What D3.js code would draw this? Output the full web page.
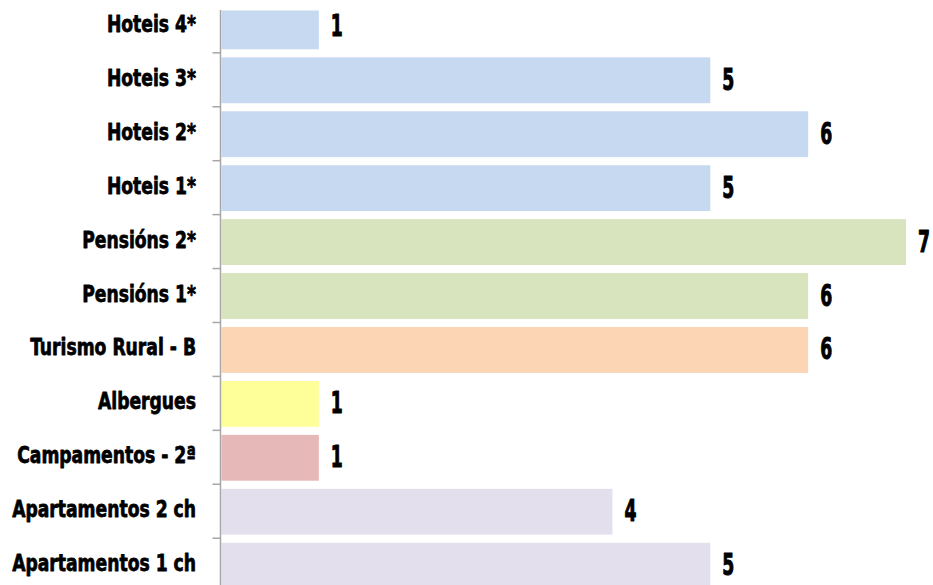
<!DOCTYPE html>
<html>
<head>
<meta charset="utf-8">
<script src="https://cdn.jsdelivr.net/npm/d3@7"></script>
<style>
  html, body { margin: 0; padding: 0; background: #ffffff; }
  svg { display: block; }
  .lbl { font-family: "Liberation Sans Narrow", "DejaVu Sans Condensed", "Liberation Sans", sans-serif; font-weight: bold; fill: #000; stroke: #000; stroke-linejoin: round; }
</style>
</head>
<body>
<svg id="chart" width="933" height="585"></svg>
<script>
// ---- data ----
const categories = ["Hoteis 4*", "Hoteis 3*", "Hoteis 2*", "Hoteis 1*", "Pensións 2*", "Pensións 1*",
  "Turismo Rural - B", "Albergues", "Campamentos - 2ª", "Apartamentos 2 ch", "Apartamentos 1 ch"];
const values = [1, 5, 6, 5, 7, 6, 6, 1, 1, 4, 5];
const groups = ["hoteis", "hoteis", "hoteis", "hoteis", "pensions", "pensions", "rural", "albergues", "campamentos", "apartamentos", "apartamentos"];
const groupNames = ["hoteis", "pensions", "rural", "albergues", "campamentos", "apartamentos"];
const groupColors = ["#c6d9f1", "#d7e4bd", "#fcd5b5", "#ffff99", "#e6b9b8", "#e4dfec"];

// ---- layout ----
const W = 933, H = 585;
const svg = d3.select("#chart");
const step = 53.93;
const yTop = -1.6;
const y = d3.scaleBand()
  .domain(categories)
  .range([yTop, yTop + step * categories.length])
  .paddingInner(0.15)
  .paddingOuter(0.075);
const x = d3.scaleLinear().domain([0, 7]).range([221, 906]);
const color = d3.scaleOrdinal().domain(groupNames).range(groupColors);

const clipTop = 10.5;
svg.append("defs").append("clipPath").attr("id", "plotclip")
  .append("rect").attr("x", 0).attr("y", clipTop).attr("width", W).attr("height", H - clipTop);

const data = categories.map((c, i) => ({ cat: c, val: values[i], grp: groups[i] }));

// bars
svg.append("g").attr("clip-path", "url(#plotclip)")
  .selectAll("rect").data(data).join("rect")
  .attr("x", x(0) + 0.5)
  .attr("y", d => y(d.cat) + 1)
  .attr("width", d => x(d.val) - x(0) - 0.5)
  .attr("height", y.bandwidth())
  .attr("fill", d => color(d.grp));

// axis line + ticks at category boundaries
const axisX = 220.5;
const ax = svg.append("g").attr("stroke", "#a6a6a6");
ax.append("line").attr("x1", axisX).attr("x2", axisX).attr("y1", clipTop - 0.5).attr("y2", H)
  .attr("stroke-width", 1.5);
categories.slice(1).forEach(c => {
  const ty = y(c) - y.step() * y.paddingInner() / 2 + 0.5;
  ax.append("line").attr("x1", axisX - 8).attr("x2", axisX).attr("y1", ty).attr("y2", ty)
    .attr("stroke-width", 1.5);
});

// category labels
const band = c => y(c) - y.step() * y.paddingInner() / 2 + y.step() / 2;
const labels = svg.append("g").selectAll("text").data(data).join("text")
  .attr("class", "lbl")
  .attr("font-size", 22)
  .attr("stroke-width", 0.7)
  .attr("text-anchor", "end")
  .text(d => d.cat);
const ref = labels.filter(d => d.cat === "Apartamentos 1 ch").node();
const sx = 184 / ref.getComputedTextLength();
labels.attr("transform", d => `translate(196,${band(d.cat) + 6.5}) scale(${sx},1.08)`);

// value labels
const vals = svg.append("g").selectAll("text").data(data).join("text")
  .attr("class", "lbl")
  .attr("font-size", 30)
  .attr("stroke-width", 1)
  .text(d => d.val);
const vref = vals.node();
const vsx = 12 / vref.getComputedTextLength();
vals.attr("transform", d => `translate(${x(d.val) + 12},${band(d.cat) + 10.5}) scale(${Math.min(1, vsx)},1)`);
</script>
</body>
</html>
